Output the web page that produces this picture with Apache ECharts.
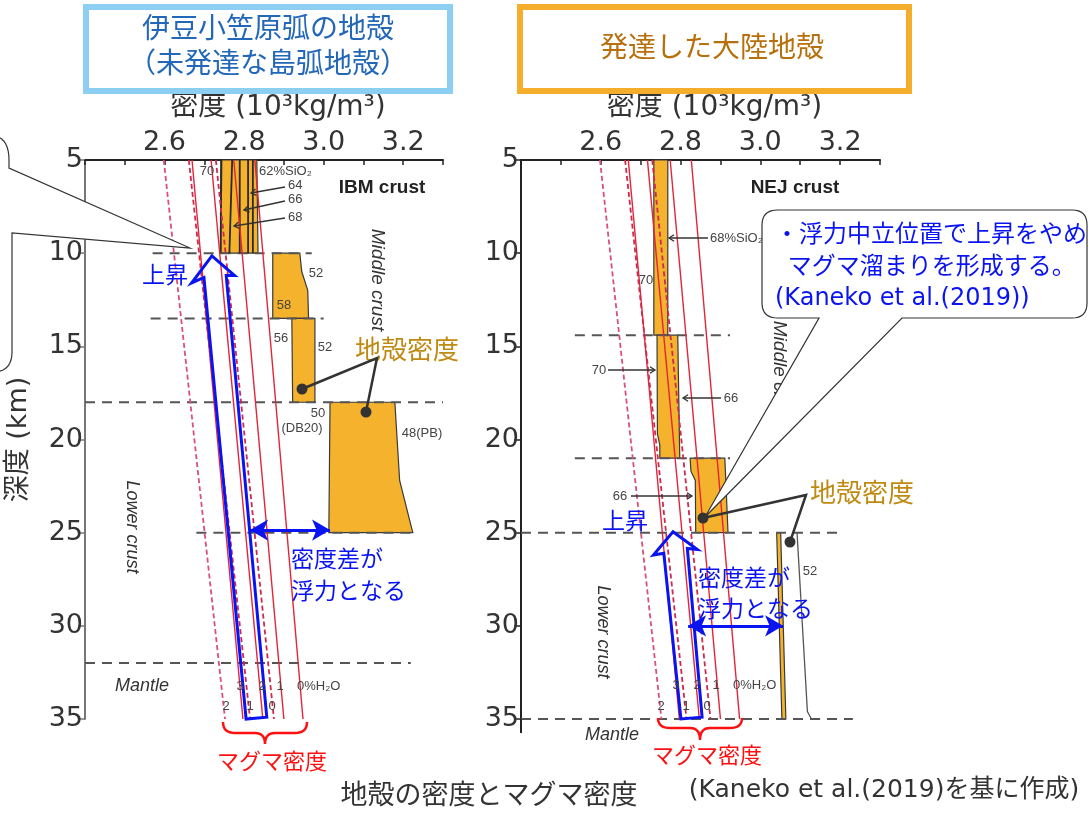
<!DOCTYPE html>
<html>
<head>
<meta charset="utf-8">
<script src="https://cdn.jsdelivr.net/npm/echarts@6/dist/echarts.min.js"></script>
<style>
  html, body { margin: 0; padding: 0; background: #fff; }
  #main { width: 1089px; height: 813px; }
</style>
</head>
<body>
<div id="main"></div>
<script>
// 軸
var densityLabels = [2.6, 2.8, 3.0, 3.2];
var depthTicks = [5, 10, 15, 20, 25, 30, 35];

// マグマ密度 (H2O 0,1,2,3 % 実線 / 0,1,2 % 破線)  [深度5kmの値, 深度35kmの値]
var magmaSolidTop = [2.827, 2.774, 2.717, 2.669];
var magmaSolidBottom = [2.948, 2.900, 2.847, 2.797];
var magmaDashedTop = [2.729, 2.661, 2.598];
var magmaDashedBottom = [2.875, 2.815, 2.752];

// 伊豆小笠原弧 (IBM) 地殻密度 [密度, 深度]
var ibmUpper = [[2.744, 5], [2.832, 5], [2.835, 10], [2.741, 10]];
var ibmMiddle1 = [[2.872, 10], [2.940, 10], [2.945, 11], [2.960, 12], [2.962, 13.5], [2.872, 13.5]];
var ibmMiddle2 = [[2.920, 13.5], [2.978, 13.5], [2.978, 18], [2.922, 18]];
var ibmLower = [[3.016, 18], [3.179, 18], [3.191, 22.2], [3.224, 25], [3.013, 25]];
var ibmSiO2Top = [2.742, 2.770, 2.789, 2.810, 2.822];    // 70,68,66,64,62 %SiO2
var ibmSiO2Bottom = [2.741, 2.763, 2.789, 2.810, 2.822];
var ibmBoundaries = [[10, 2.57, 2.97], [13.5, 2.565, 3.0], [18, 2.4, 3.3], [25, 2.68, 3.224], [32, 2.4, 3.219]];

// 東北日本 (NEJ) 地殻密度
var nejUpper = [[2.733, 5], [2.768, 5], [2.768, 14.4], [2.733, 14.4]];
var nejMiddle = [[2.741, 14.4], [2.793, 14.4], [2.798, 21], [2.748, 21], [2.748, 20.3], [2.742, 19.7]];
var nejLower1 = [[2.824, 21], [2.911, 21], [2.919, 25], [2.838, 25], [2.837, 22.2], [2.826, 21.7]];
var nejLower2 = [[3.041, 25], [3.051, 25], [3.064, 35], [3.054, 35]];
var nejMantleEdge = [[3.092, 25], [3.118, 34.6], [3.128, 35], [3.15, 35]];
var nejBoundaries = [[14.4, 2.535, 2.924], [21, 2.535, 2.924], [25, 2.4, 3.2], [35, 2.4, 3.232]];

// 上昇の矢印・密度差
var ibmRiseArrow = [[2.719, 10.15], [2.776, 11.2], [2.755, 11.2], [2.857, 34.9], [2.805, 35.0], [2.699, 11.3], [2.668, 11.6]];
var nejRiseArrow = [[2.781, 24.95], [2.842, 25.9], [2.817, 25.85], [2.854, 34.9], [2.801, 35.0], [2.758, 26.1], [2.732, 26.2]];
var ibmBuoyancy = [24.86, 2.815, 3.016];
var nejBuoyancy = [30.0, 2.819, 3.057];

var FONT = '"DejaVu Sans", "Noto Sans CJK JP", sans-serif';
var ARIAL = '"Liberation Sans", Arial, sans-serif';
var BLUE = '#0a14f0';

var myChart = echarts.init(document.getElementById('main'));

function xAxisOf(i) {
  return {
    type: 'value', gridIndex: i, position: 'top', min: 2.4, max: 3.3, interval: 0.1,
    name: '密度 (10³kg/m³)', nameLocation: 'middle', nameGap: 38,
    nameTextStyle: { fontSize: 28, color: '#333', fontFamily: FONT, padding: [0, 0, 0, 28] },
    axisLine: { lineStyle: { color: '#222', width: 2 } },
    axisTick: { inside: true, length: 5, lineStyle: { color: '#222', width: 1.5 } },
    axisLabel: {
      fontSize: 27, color: '#333', fontFamily: FONT, margin: 4,
      formatter: function (v) {
        var k = Math.round(v * 10);
        return densityLabels.indexOf(k / 10) >= 0 ? (k / 10).toFixed(1) : '';
      }
    },
    splitLine: { show: false }
  };
}
function yAxisOf(i, color) {
  return {
    type: 'value', gridIndex: i, inverse: true, min: 5, max: 35, interval: 5,
    name: i === 0 ? '深度 (km)' : '', nameLocation: 'middle', nameGap: 53, nameRotate: 90,
    nameTextStyle: { fontSize: 27, color: '#333', fontFamily: FONT },
    axisLine: { lineStyle: { color: color, width: 2 } },
    axisTick: { length: 7, lineStyle: { color: color, width: 1.5 } },
    axisLabel: { fontSize: 27, color: '#333', fontFamily: FONT, margin: 2 },
    splitLine: { show: false }
  };
}

function polySeries(blocks, idx) {
  return {
    type: 'custom', xAxisIndex: idx, yAxisIndex: idx, z: 1, silent: true, clip: false,
    data: blocks.map(function (b) { return b[0]; }),
    renderItem: function (params, api) {
      var pts = blocks[params.dataIndex].map(function (p) { return api.coord(p); });
      return { type: 'polygon', shape: { points: pts }, style: { fill: '#f5b22c', stroke: '#3a3a3a', lineWidth: 1.2 } };
    }
  };
}
function arrowSeries(points, idx) {
  return {
    type: 'custom', xAxisIndex: idx, yAxisIndex: idx, z: 6, silent: true, clip: false,
    data: [points[0]],
    renderItem: function (params, api) {
      var pts = points.map(function (p) { return api.coord(p); });
      return { type: 'polygon', shape: { points: pts }, style: { fill: 'none', stroke: BLUE, lineWidth: 3 } };
    }
  };
}
function lineSeries(data, idx, style, z) {
  return {
    type: 'line', xAxisIndex: idx, yAxisIndex: idx, data: data, z: z || 3, clip: false,
    showSymbol: false, symbol: 'none', silent: true, lineStyle: style
  };
}

var series = [];
[0, 1].forEach(function (idx) {
  var blocks = idx === 0 ? [ibmUpper, ibmMiddle1, ibmMiddle2, ibmLower] : [nejUpper, nejMiddle, nejLower1, nejLower2];
  series.push(polySeries(blocks, idx));
  (idx === 0 ? ibmBoundaries : nejBoundaries).forEach(function (b) {
    series.push(lineSeries([[b[1], b[0]], [b[2], b[0]]], idx, { color: '#555', width: 2, type: [10, 7] }, 2));
  });
  magmaSolidTop.forEach(function (t, i) {
    series.push(lineSeries([[t, 5], [magmaSolidBottom[i], 35]], idx, { color: '#e3243a', width: 1.4 }, 4));
  });
  magmaDashedTop.forEach(function (t, i) {
    series.push(lineSeries([[t, 5], [magmaDashedBottom[i], 35]], idx,
      { color: i === 2 ? '#dc5078' : '#cf2a4e', width: 1.8, type: [5, 3] }, 4));
  });
  series.push(arrowSeries(idx === 0 ? ibmRiseArrow : nejRiseArrow, idx));
  var bu = idx === 0 ? ibmBuoyancy : nejBuoyancy;
  series.push({
    type: 'line', xAxisIndex: idx, yAxisIndex: idx, data: [], z: 7, silent: true,
    markLine: {
      silent: true, symbol: ['arrow', 'arrow'], symbolSize: [16, 18],
      label: { show: false }, lineStyle: { color: BLUE, width: 3, type: 'solid' },
      data: [[{ coord: [bu[1], bu[0]] }, { coord: [bu[2], bu[0]] }]]
    }
  });
});
ibmSiO2Top.forEach(function (t, i) {
  series.push(lineSeries([[t, 5], [ibmSiO2Bottom[i], 10]], 0, { color: '#2a2a2a', width: 1.8 }, 3));
});
series.push(lineSeries(nejMantleEdge, 1, { color: '#555', width: 1.3 }, 3));

// 注記
function t(text, x, y, size, color, extra) {
  var s = {
    text: text, x: 0, y: 0, fill: color || '#444', font: (size || 13) + 'px ' + FONT,
    align: 'center', verticalAlign: 'middle', textAlign: 'center', textVerticalAlign: 'middle'
  };
  var e = { type: 'text', x: x, y: y, z: 50, style: s, silent: true };
  if (extra) { for (var k in extra) { if (k === 'style') { for (var j in extra.style) s[j] = extra.style[j]; } else e[k] = extra[k]; } }
  return e;
}
function small(text, x, y, align) {
  return t(text, x, y, 13, '#444', { style: { font: '13px ' + ARIAL, align: align || 'center', textAlign: align || 'center' } });
}
function arrow(x1, y1, x2, y2, color, w, head) {
  var ang = Math.atan2(y2 - y1, x2 - x1), h = head || 7;
  var a1 = ang + Math.PI * 0.82, a2 = ang - Math.PI * 0.82;
  return [
    { type: 'line', z: 50, silent: true, shape: { x1: x1, y1: y1, x2: x2, y2: y2 }, style: { stroke: color, lineWidth: w } },
    { type: 'polyline', z: 50, silent: true,
      shape: { points: [[x2 + h * Math.cos(a1), y2 + h * Math.sin(a1)], [x2, y2], [x2 + h * Math.cos(a2), y2 + h * Math.sin(a2)]] },
      style: { stroke: color, lineWidth: w, fill: 'none' } }
  ];
}
function dot(x, y) {
  return { type: 'circle', z: 50, silent: true, shape: { cx: x, cy: y, r: 5.5 }, style: { fill: '#333' } };
}
function leader(pts) {
  return { type: 'polyline', z: 50, silent: true, shape: { points: pts }, style: { stroke: '#333', lineWidth: 2.5, fill: 'none' } };
}
// 2次ベジェを点列に
function quad(p0, p1, p2) {
  var out = [];
  for (var i = 1; i <= 8; i++) {
    var s = i / 8, u = 1 - s;
    out.push([u * u * p0[0] + 2 * u * s * p1[0] + s * s * p2[0], u * u * p0[1] + 2 * u * s * p1[1] + s * s * p2[1]]);
  }
  return out;
}
function brace(x1, x2, y1, y2, y3) {
  var m = (x1 + x2) / 2;
  var pts = [[x1, y1]]
    .concat(quad([x1, y1], [x1, y2], [x1 + 12, y2]))
    .concat([[m - 10, y2]])
    .concat(quad([m - 10, y2], [m, y2], [m, y3]))
    .concat(quad([m, y3], [m, y2], [m + 10, y2]))
    .concat([[x2 - 12, y2]])
    .concat(quad([x2 - 12, y2], [x2, y2], [x2, y1]));
  return { type: 'polyline', z: 50, silent: true, shape: { points: pts }, style: { stroke: '#ff1010', lineWidth: 2.5, fill: 'none' } };
}
var leftBubble = [[-10, 136], [-4, 136]]
  .concat(quad([-4, 136], [9, 140], [9, 160]))
  .concat([[9, 168], [190, 248], [12, 233], [12, 352]])
  .concat(quad([12, 352], [12, 370], [-4, 372]))
  .concat([[-10, 372]]);
var rightBubble = [[778, 210], [1072, 210]]
  .concat(quad([1072, 210], [1087, 210], [1087, 225]))
  .concat([[1087, 303]])
  .concat(quad([1087, 303], [1087, 318], [1072, 318]))
  .concat([[902, 318], [705, 517], [819, 318], [778, 318]])
  .concat(quad([778, 318], [762, 318], [762, 303]))
  .concat([[762, 225]])
  .concat(quad([762, 225], [762, 210], [778, 210]));

var graphics = [
  // タイトル枠
  { type: 'rect', z: 50, silent: true, shape: { x: 86, y: 7, width: 364, height: 84 }, style: { fill: '#fff', stroke: '#8ccff3', lineWidth: 6 } },
  t('伊豆小笠原弧の地殻', 268, 31, 28, '#2267b8'),
  t('（未発達な島弧地殻）', 268, 66, 28, '#2267b8'),
  { type: 'rect', z: 50, silent: true, shape: { x: 520, y: 7, width: 389, height: 84 }, style: { fill: '#fff', stroke: '#f5ae2b', lineWidth: 6 } },
  t('発達した大陸地殻', 712, 50, 28, '#b8700c'),
  // 下部
  t('地殻の密度とマグマ密度', 489, 797, 27, '#333'),
  t('(Kaneko et al.(2019)を基に作成)', 884, 790, 25, '#333'),
  // 右軸の延長
  { type: 'line', z: 50, silent: true, shape: { x1: 521, y1: 719, x2: 521, y2: 733 }, style: { stroke: '#222', lineWidth: 2 } },

  // 左図のラベル
  small('70', 207, 171), small('62%SiO₂', 259, 171, 'left'),
  small('64', 288, 185, 'left'), small('66', 288, 199, 'left'), small('68', 288, 217, 'left'),
  t('IBM crust', 382, 188, 19, '#222', { style: { font: 'bold 19px ' + ARIAL } }),
  t('Middle crust', 377, 280, 19, '#333', { rotation: -Math.PI / 2, style: { font: 'italic 19px ' + ARIAL } }),
  small('52', 316, 273), small('58', 284, 305), small('56', 281, 338), small('52', 325, 347),
  small('50', 318, 413), small('(DB20)', 302, 428), small('48(PB)', 422, 433),
  t('Lower crust', 132, 527, 18, '#333', { rotation: -Math.PI / 2, style: { font: 'italic 18px ' + ARIAL } }),
  t('Mantle', 142, 686, 18, '#333', { style: { font: 'italic 18px ' + ARIAL } }),
  small('3', 240, 686), small('2', 262, 686), small('1', 280, 686), small('0%H₂O', 297, 686, 'left'),
  small('2', 226, 706), small('1', 250, 706), small('0', 272, 706),
  t('上昇', 165, 277, 23, BLUE),
  t('密度差が', 291, 561, 23, BLUE, { style: { align: 'left', textAlign: 'left' } }),
  t('浮力となる', 291, 593, 23, BLUE, { style: { align: 'left', textAlign: 'left' } }),
  t('地殻密度', 407, 352, 26, '#bf8a12'),
  leader([[302, 389], [377, 358], [366, 412]]), dot(302, 389), dot(366, 412),
  brace(223, 307, 722, 733, 744),
  t('マグマ密度', 272, 763, 22, '#ff1010'),

  // 右図のラベル
  t('NEJ crust', 795, 188, 19, '#222', { style: { font: 'bold 19px ' + ARIAL } }),
  small('68%SiO₂', 710, 238, 'left'),
  small('70', 646, 280), small('70', 599, 370), small('66', 731, 398), small('66', 620, 496),
  t('Middle crust', 779, 372, 19, '#333', { rotation: -Math.PI / 2, style: { font: 'italic 19px ' + ARIAL } }),
  small('52', 810, 571),
  t('Lower crust', 603, 632, 18, '#333', { rotation: -Math.PI / 2, style: { font: 'italic 18px ' + ARIAL } }),
  t('Mantle', 612, 735, 18, '#333', { style: { font: 'italic 18px ' + ARIAL } }),
  small('3', 676, 685), small('2', 697, 685), small('1', 716, 685), small('0%H₂O', 733, 685, 'left'),
  small('2', 661, 706), small('1', 686, 706), small('0', 707, 706),
  t('上昇', 625, 523, 23, BLUE),
  t('密度差が', 698, 580, 23, BLUE, { style: { align: 'left', textAlign: 'left' } }),
  t('浮力となる', 698, 611, 23, BLUE, { style: { align: 'left', textAlign: 'left' } }),
  t('地殻密度', 862, 495, 26, '#bf8a12'),
  leader([[703, 518], [806, 495], [790, 542]]), dot(703, 518), dot(790, 542),
  brace(658, 742, 718, 728, 740),
  t('マグマ密度', 707, 757, 22, '#ff1010'),

  // 吹き出し
  { type: 'polygon', z: 60, silent: true, shape: { points: leftBubble }, style: { fill: '#fff', stroke: '#333', lineWidth: 1.2 } },
  { type: 'polygon', z: 60, silent: true, shape: { points: rightBubble }, style: { fill: '#fff', stroke: '#333', lineWidth: 1.2 } },
  t('・浮力中立位置で上昇をやめ', 775, 236, 24, BLUE, { z: 61, style: { align: 'left', textAlign: 'left' } }),
  t(' マグマ溜まりを形成する。', 780, 268, 24, BLUE, { z: 61, style: { align: 'left', textAlign: 'left' } }),
  t('(Kaneko et al.(2019))', 775, 299, 24, BLUE, { z: 61, style: { align: 'left', textAlign: 'left' } })
];
// ラベル用の小矢印
graphics = graphics.concat(
  arrow(285, 187, 251, 193, '#333', 1.3, 6),
  arrow(285, 201, 244, 210, '#333', 1.3, 6),
  arrow(285, 218, 234, 226, '#333', 1.3, 6),
  arrow(708, 238, 669, 238, '#333', 1.3, 6),
  arrow(608, 370, 655, 370, '#333', 1.3, 6),
  arrow(721, 398, 683, 398, '#333', 1.3, 6),
  arrow(631, 496, 692, 496, '#333', 1.3, 6)
);

var option = {
  animation: false,
  backgroundColor: '#fff',
  grid: [
    { left: 85, top: 160, width: 358, height: 559 },
    { left: 521, top: 160, width: 359, height: 559 }
  ],
  xAxis: [xAxisOf(0), xAxisOf(1)],
  yAxis: [yAxisOf(0, '#777'), yAxisOf(1, '#222')],
  series: series,
  graphic: { elements: graphics }
};
myChart.setOption(option);
</script>
</body>
</html>
